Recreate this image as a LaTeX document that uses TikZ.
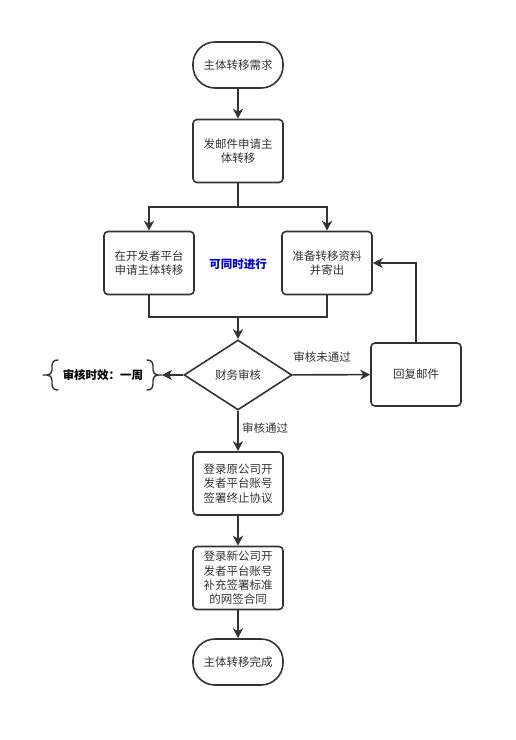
\documentclass[tikz,border=0pt]{standalone}
\usepackage{fontspec}
\setmainfont{Noto Sans CJK SC}
\usetikzlibrary{arrows.meta,shapes.geometric}
\definecolor{ln}{HTML}{333333}
\definecolor{tx}{HTML}{333333}
\definecolor{bl}{HTML}{0000CC}
\begin{document}
\begin{tikzpicture}[x=1pt,y=-1pt]
\useasboundingbox[fill=white] (0,0) rectangle (516,740);
\tikzset{
 every node/.style={font=\fontsize{11.5}{14.3}\selectfont, text=tx},
 box/.style={draw=ln, line width=1.6pt, rounded corners=4pt, minimum width=90pt, minimum height=63pt, align=center, inner sep=2pt},
 term/.style={draw=ln, line width=1.6pt, rounded corners=22pt, minimum width=90pt, minimum height=46pt},
 dia/.style={draw=ln, line width=1.6pt, diamond, minimum width=108pt, minimum height=70pt, inner sep=0pt},
 arr/.style={draw=ln, line width=1.6pt, -{Stealth[length=10pt,width=10pt,inset=3pt]}},
 lnk/.style={draw=ln, line width=1.6pt},
 brace/.style={draw=ln, line width=1.4pt, line cap=round, line join=round}
}
\node[term] (s) at (238,65) {主体转移需求};
\node[box] (b1) at (238,151) {发邮件申请主\\体转移};
\node[box] (l) at (149,263) {在开发者平台\\申请主体转移};
\node[box] (r) at (327,263) {准备转移资料\\并寄出};
\node[font=\fontsize{11.5}{14}\selectfont\bfseries, text=bl] (p) at (238,264) {可同时进行};
\node[dia] (d) at (238,375) {财务审核};
\node[box] (m) at (416,374.5) {回复邮件};
\node[box] (e1) at (238,483.5) {登录原公司开\\发者平台账号\\签署终止协议};
\node[box] (e2) at (238,578) {登录新公司开\\发者平台账号\\补充签署标准\\的网签合同};
\node[term] (f) at (238,662) {主体转移完成};
\node[font=\fontsize{11.5}{14}\selectfont\bfseries, text=black] (a) at (103,375) {审核时效：一周};
\node (lb1) at (322,357) {审核未通过};
\node (lb2) at (265,428) {审核通过};
% brace annotation
\coordinate (at) at (162,375);
\draw[brace] (58,360) .. controls (54,360) and (52,362) .. (52,366) -- (52,370) .. controls (52,373) and (50,375) .. (47,375) -- (43,375);
\draw[brace] (47,375) .. controls (50,375) and (52,377) .. (52,380) -- (52,384) .. controls (52,388) and (54,390) .. (58,390);
\draw[brace] (147,360) .. controls (151,360) and (153,362) .. (153,366) -- (153,370) .. controls (153,373) and (155,375) .. (158,375) -- (at);
\draw[brace] (158,375) .. controls (155,375) and (153,377) .. (153,380) -- (153,384) .. controls (153,388) and (151,390) .. (147,390);
% connectors
\coordinate (sp) at (238,207);
\coordinate (mg) at (238,317);
\draw[arr] (s) -- (b1);
\draw[lnk] (b1) -- (sp);
\draw[arr] (sp) -| (l);
\draw[arr] (sp) -| (r);
\draw[lnk] (l) |- (mg);
\draw[lnk] (r) |- (mg);
\draw[arr] (mg) -- (d);
\draw[arr] (d) -- (m);
\draw[arr] (m.north) |- (r.east);
\draw[arr] (d.west) -- (at);
\draw[arr] (d) -- (e1);
\draw[arr] (e1) -- (e2);
\draw[arr] (e2) -- (f);
\end{tikzpicture}
\end{document}
